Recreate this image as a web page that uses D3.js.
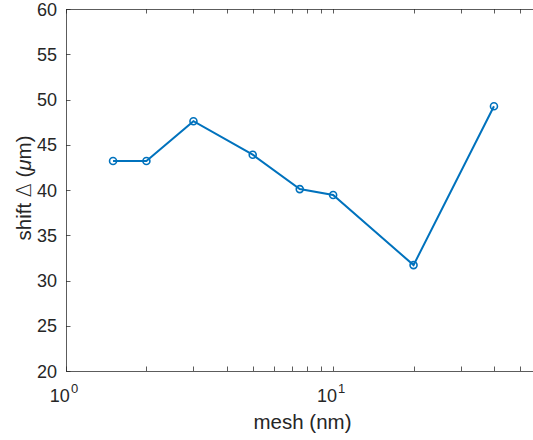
<!DOCTYPE html>
<html>
<head>
<meta charset="utf-8">
<script src="https://cdn.jsdelivr.net/npm/d3@7"></script>
<style>
  html, body { margin: 0; padding: 0; background: #fff; overflow: hidden; }
  svg { display: block; font-family: "Liberation Sans", Arial, sans-serif; }
</style>
</head>
<body>
<svg id="chart" width="533" height="440"></svg>
<script>
// mesh size (nm) vs shift (um)
const mesh = [1.5, 2, 3, 5, 7.5, 10, 20, 40];
const shift = [43.2, 43.2, 47.6, 43.9, 40.1, 39.45, 31.7, 49.25];
const yTicks = [20, 25, 30, 35, 40, 45, 50, 55, 60];
const xMajor = [1, 10];
const xMinor = [2, 3, 4, 5, 6, 7, 8, 9, 20, 30, 40, 50];

const svg = d3.select('#chart');
const margin = {left: 66, top: 9, right: 541, bottom: 371};
const axisColor = '#262626';
const lineColor = '#0072BD';
const tickLen = 4.5;

const x = d3.scaleLog().domain([1, 60]).range([margin.left, margin.right]);
const y = d3.scaleLinear().domain([20, 60]).range([margin.bottom, margin.top]);

// box (no right spine, it falls outside the picture)
const frame = svg.append('g').attr('stroke', axisColor).attr('stroke-width', 1).attr('opacity', 0.75);
frame.append('line').attr('x1', margin.left).attr('x2', margin.right)
  .attr('y1', margin.bottom + 0.5).attr('y2', margin.bottom + 0.5);
frame.append('line').attr('x1', margin.left).attr('x2', margin.right)
  .attr('y1', margin.top + 0.5).attr('y2', margin.top + 0.5);
frame.append('line').attr('x1', margin.left + 0.5).attr('x2', margin.left + 0.5)
  .attr('y1', margin.top).attr('y2', margin.bottom);

// y ticks + labels
svg.append('g').selectAll('line').data(yTicks).enter().append('line')
  .attr('x1', margin.left).attr('x2', margin.left + tickLen)
  .attr('y1', d => Math.round(y(d)) + 0.5).attr('y2', d => Math.round(y(d)) + 0.5)
  .attr('stroke', axisColor).attr('opacity', 0.75);
svg.append('g').selectAll('text').data(yTicks).enter().append('text')
  .attr('x', margin.left - 9).attr('y', d => y(d) + 6.5)
  .attr('text-anchor', 'end').attr('font-size', 18).attr('fill', axisColor)
  .text(d => d);

// x ticks on bottom and top, pointing inward
const allX = xMajor.concat(xMinor);
const xt = svg.append('g').attr('stroke', axisColor).attr('opacity', 0.75);
xt.selectAll('line.b').data(allX).enter().append('line').attr('class', 'b')
  .attr('x1', d => Math.round(x(d)) + 0.5).attr('x2', d => Math.round(x(d)) + 0.5)
  .attr('y1', margin.bottom).attr('y2', margin.bottom - tickLen);
xt.selectAll('line.t').data(allX).enter().append('line').attr('class', 't')
  .attr('x1', d => Math.round(x(d)) + 0.5).attr('x2', d => Math.round(x(d)) + 0.5)
  .attr('y1', margin.top).attr('y2', margin.top + tickLen);

// x major labels 10^n
const xl = svg.append('g').selectAll('text').data(xMajor).enter().append('text')
  .attr('x', d => x(d) - 2).attr('y', 402)
  .attr('text-anchor', 'middle').attr('font-size', 18).attr('fill', axisColor);
xl.append('tspan').text('10');
xl.append('tspan').attr('dy', -9).attr('dx', 1).attr('font-size', 13).text(d => Math.round(Math.log10(d)));

// axis titles
svg.append('text')
  .attr('x', (margin.left + margin.right) / 2 - 1).attr('y', 429)
  .attr('text-anchor', 'middle').attr('font-size', 20.5).attr('fill', axisColor)
  .text('mesh (nm)');
svg.append('text')
  .attr('transform', `translate(31, ${(margin.top + margin.bottom) / 2 - 2}) rotate(-90)`)
  .attr('text-anchor', 'middle').attr('font-size', 20.5).attr('fill', axisColor)
  .html('shift <tspan font-family="DejaVu Sans" font-weight="200">\u2206</tspan> (<tspan font-style="italic">\u03bc</tspan>m)');

// data
const pts = mesh.map((m, i) => [m, shift[i]]);
svg.append('path')
  .datum(pts)
  .attr('d', d3.line().x(d => x(d[0])).y(d => y(d[1])))
  .attr('fill', 'none').attr('stroke', lineColor).attr('stroke-width', 2);
svg.append('g').selectAll('circle').data(pts).enter().append('circle')
  .attr('cx', d => x(d[0])).attr('cy', d => y(d[1])).attr('r', 3.5)
  .attr('fill', 'none').attr('stroke', lineColor).attr('stroke-width', 1.6);
</script>
</body>
</html>
